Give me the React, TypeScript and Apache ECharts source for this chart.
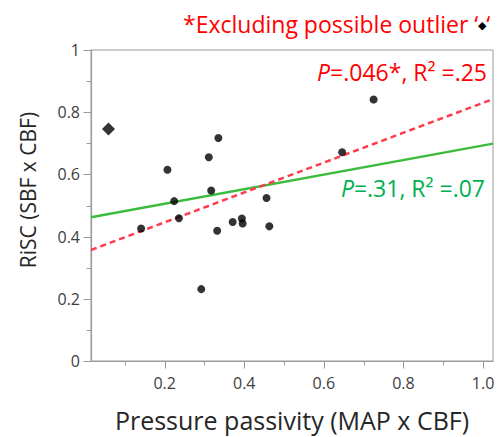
import React, { useEffect, useRef } from "react";
import * as echarts from "echarts";

const pointsX = [0.141, 0.207, 0.224, 0.236, 0.292, 0.311, 0.317, 0.335, 0.332, 0.371, 0.394, 0.396, 0.456, 0.463, 0.646, 0.725];
const pointsY = [0.426, 0.615, 0.514, 0.459, 0.231, 0.655, 0.548, 0.717, 0.419, 0.447, 0.458, 0.442, 0.524, 0.433, 0.671, 0.841];
const outlierX = [0.059];
const outlierY = [0.746];
const fitAllX = [0.015, 1.025];
const fitAllY = [0.4625, 0.699];
const fitExclX = [0.015, 1.025];
const fitExclY = [0.357, 0.842];
const X_MIN = 0.015;
const X_MAX = 1.025;
const xMajorTicks = [0.2, 0.4, 0.6, 0.8, 1.0];
const xMinorTicks = [0.1, 0.3, 0.5, 0.7, 0.9];
const yMajorTicks = [0, 0.2, 0.4, 0.6, 0.8, 1.0];
const yMinorTicks = [0.1, 0.3, 0.5, 0.7, 0.9];

const FONT = "Open Sans";
const AXIS_GRAY = "#9a9a9a";

export default function App() {
  const ref = useRef<HTMLDivElement>(null);
  useEffect(() => {
    document.body.style.margin = "0";
    if (!ref.current) return;
    const chart = echarts.init(ref.current, undefined, { renderer: "svg" });
    const zip = (xs: number[], ys: number[]) => xs.map((x, i) => [x, ys[i]]);
    const texts: any[] = [
      {
        type: "text",
        x: 28,
        y: 190,
        rotation: Math.PI / 2,
        style: {
          text: "RiSC (SBF x CBF)",
          fontFamily: FONT,
          fontSize: 21,
          fill: "#262626",
          align: "center",
          verticalAlign: "middle",
        },
      },
      {
        type: "text",
        x: 183,
        y: 24,
        style: {
          text: "*Excluding possible outlier ‘{d|◆}‘",
          fontFamily: FONT,
          fontSize: 23,
          fill: "#ff0000",
          verticalAlign: "middle",
          align: "left",
          rich: { d: { fontFamily: FONT, fontSize: 11, fill: "#000000" } },
        },
      },
      {
        type: "text",
        x: 487,
        y: 72,
        style: {
          text: "{it|P}=.046*, R² =.25",
          fontFamily: FONT,
          fontSize: 23,
          fill: "#ff0000",
          align: "right",
          verticalAlign: "middle",
          rich: { it: { fontStyle: "italic", fontFamily: FONT, fontSize: 23, fill: "#ff0000" } },
        },
      },
      {
        type: "text",
        x: 485,
        y: 188,
        style: {
          text: "{it|P}=.31, R² =.07",
          fontFamily: FONT,
          fontSize: 23,
          fill: "#00b050",
          align: "right",
          verticalAlign: "middle",
          rich: { it: { fontStyle: "italic", fontFamily: FONT, fontSize: 23, fill: "#00b050" } },
        },
      },
    ];
    chart.setOption({
      animation: false,
      backgroundColor: "#ffffff",
      grid: {
        left: 91,
        right: 9,
        top: 50,
        bottom: 75,
        show: true,
        borderColor: AXIS_GRAY,
        borderWidth: 1,
      },
      xAxis: {
        type: "value",
        min: X_MIN,
        max: X_MAX,
        name: "Pressure passivity (MAP x CBF)",
        nameLocation: "middle",
        nameGap: 46,
        nameTextStyle: { fontFamily: FONT, fontSize: 25, color: "#262626" },
        axisLine: { show: true, lineStyle: { color: AXIS_GRAY, width: 1.2 } },
        axisTick: { show: false },
        axisLabel: {
          customValues: xMajorTicks,
          formatter: (v: number) => v.toFixed(1),
          fontFamily: FONT,
          fontSize: 16,
          color: "#404040",
          margin: 14,
        },
        splitLine: { show: false },
      },
      yAxis: {
        type: "value",
        min: 0,
        max: 1,
        axisLine: { show: true, lineStyle: { color: AXIS_GRAY, width: 1.2 } },
        axisTick: { show: false },
        axisLabel: {
          customValues: yMajorTicks,
          formatter: (v: number) => (v === 0 ? "0" : v === 1 ? "1" : v.toFixed(1)),
          fontFamily: FONT,
          fontSize: 16,
          color: "#404040",
          margin: 11,
        },
        splitLine: { show: false },
      },
      series: [
        {
          type: "line",
          data: zip(fitAllX, fitAllY),
          symbol: "none",
          lineStyle: { color: "#3dbb3d", width: 2.5 },
          z: 2,
        },
        {
          type: "line",
          data: zip(fitExclX, fitExclY),
          symbol: "none",
          lineStyle: { color: "#ff3b4e", width: 2.5, type: [6, 4] },
          z: 2,
        },
        {
          type: "scatter",
          data: zip(pointsX, pointsY),
          symbol: "circle",
          symbolSize: 8,
          itemStyle: { color: "#000000" },
          z: 3,
        },
        {
          type: "scatter",
          data: zip(outlierX, outlierY),
          symbol: "diamond",
          symbolSize: [13, 13],
          itemStyle: { color: "#000000" },
          z: 3,
        },
      ],
      graphic: texts,
    });
    const ticks: any[] = [];
    const addTick = (v: number, isX: boolean, len: number) => {
      const pt = chart.convertToPixel({ gridIndex: 0 }, isX ? [v, 0] : [X_MIN, v]) as number[];
      if (!pt) return;
      const x = Math.round(pt[0]) + 0.5;
      const y = Math.round(pt[1]) + 0.5;
      ticks.push({
        type: "line",
        silent: true,
        shape: isX ? { x1: x, y1: y, x2: x, y2: y + len } : { x1: x - len, y1: y, x2: x, y2: y },
        style: { stroke: AXIS_GRAY, lineWidth: 1 },
        z: 10,
      });
    };
    xMajorTicks.forEach((v) => addTick(v, true, 7));
    xMinorTicks.forEach((v) => addTick(v, true, 4));
    yMajorTicks.forEach((v) => addTick(v, false, 8));
    yMinorTicks.forEach((v) => addTick(v, false, 5));
    chart.setOption({ graphic: [...texts, ...ticks] });
    return () => chart.dispose();
  }, []);
  return <div ref={ref} style={{ width: 502, height: 437 }} />;
}
